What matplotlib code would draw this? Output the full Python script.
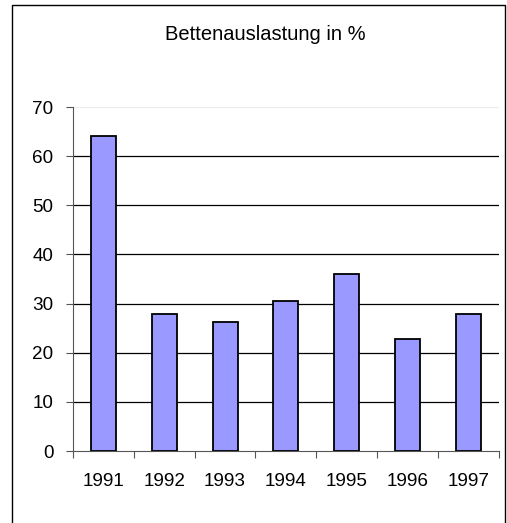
import matplotlib
matplotlib.use("Agg")
import matplotlib.pyplot as plt
from matplotlib.patches import Rectangle

years = ["1991", "1992", "1993", "1994", "1995", "1996", "1997"]
auslastung = [64.2, 27.8, 26.2, 30.6, 36.0, 22.7, 27.8]
y_ticks = [0, 10, 20, 30, 40, 50, 60, 70]

W, H = 507, 523
fig = plt.figure(figsize=(W / 100, H / 100), dpi=100)
plt.rcParams['font.family'] = ['Liberation Sans', 'DejaVu Sans']

# outer frame like the excel chart area
fig.patches.append(Rectangle((12 / W, -0.01), (505 - 12) / W, 1.01 - 5 / H,
                             transform=fig.transFigure, fill=False,
                             edgecolor='black', linewidth=1.0))

ax = fig.add_axes([73 / W, 1 - 451 / H, (498.7 - 73) / W, (451 - 107) / H])
x = list(range(len(years)))
ax.bar(x, auslastung, width=0.41, color='#9999FF', edgecolor='black',
       linewidth=1.3, zorder=3)

ax.set_xlim(-0.5, len(years) - 0.5)
ax.set_ylim(0, 70)
ax.set_yticks(y_ticks)
ax.set_yticklabels([str(t) for t in y_ticks], fontsize=13.6)
ax.set_xticks(x)
ax.set_xticklabels(years, fontsize=13.6)
ax.tick_params(axis='x', length=0, pad=16)
ax.set_xticks([i - 0.5 for i in range(len(years) + 1)], minor=True)
ax.tick_params(axis='x', which='minor', length=5, width=0.8, color='#555555')
ax.tick_params(axis='y', length=5, width=0.8, pad=9, color='#555555')

for t in y_ticks[1:-1]:
    ax.axhline(t, color='black', linewidth=0.9, zorder=1)
ax.axhline(70, color='#eeeeee', linewidth=0.9, zorder=1)

for s in ['top', 'right']:
    ax.spines[s].set_visible(False)
ax.spines['left'].set_color('#555555')
ax.spines['bottom'].set_color('#555555')
ax.spines['left'].set_linewidth(0.8)
ax.spines['bottom'].set_linewidth(0.8)

fig.text(265 / W, 1 - 35 / H, "Bettenauslastung in %", ha='center', va='center',
         fontsize=14.5)

fig.savefig("out.png", dpi=100)
